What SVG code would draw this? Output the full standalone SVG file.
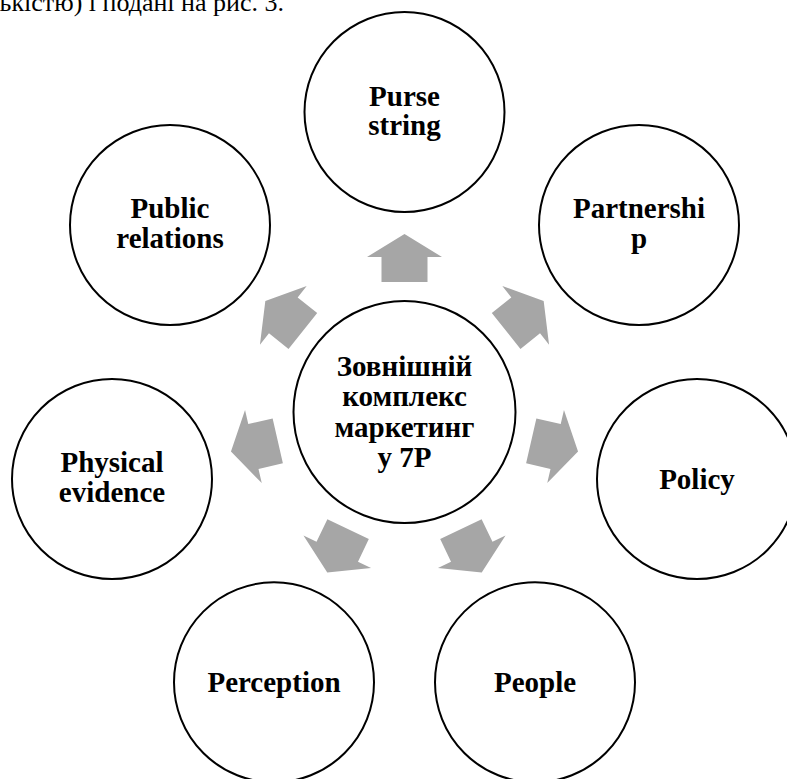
<svg xmlns="http://www.w3.org/2000/svg" width="787" height="779" viewBox="0 0 787 779">
  <style>
    .node circle { fill: #ffffff; stroke: #000000; stroke-width: 2; }
    .lbl { font-family: "Liberation Serif", "Times New Roman", serif; font-weight: bold; font-size: 29px; fill: #000000; text-anchor: middle; }
    .body { font-family: "Liberation Serif", "Times New Roman", serif; font-size: 26px; fill: #000000; }
    .arrow { fill: #A6A6A6; }
  </style>
  <defs>
    <polygon id="arr" points="-23,-130 -23,-155 -37.5,-155 0,-178 37.5,-155 23,-155 23,-130"/>
  </defs>
  <rect width="787" height="779" fill="#ffffff"/>
  <text class="body" x="284" y="11" text-anchor="end">ькістю) і подані на рис. 3.</text>

  <g id="connectors" class="arrow" transform="translate(404.5,412)">
    <use href="#arr" transform="rotate(0)"/>
    <use href="#arr" transform="rotate(51.43)"/>
    <use href="#arr" transform="rotate(102.86)"/>
    <use href="#arr" transform="rotate(154.29)"/>
    <use href="#arr" transform="rotate(205.71)"/>
    <use href="#arr" transform="rotate(257.14)"/>
    <use href="#arr" transform="rotate(308.57)"/>
  </g>

  <g id="center" class="node">
    <circle cx="404.5" cy="412" r="111"/>
    <text class="lbl" x="404.5" y="375.5">Зовнішній</text>
    <text class="lbl" x="404.5" y="406">комплекс</text>
    <text class="lbl" x="404.5" y="436.5">маркетинг</text>
    <text class="lbl" x="404.5" y="467">у 7Р</text>
  </g>

  <g id="purse-string" class="node">
    <circle cx="404.5" cy="112" r="100"/>
    <text class="lbl" x="404.5" y="106">Purse</text>
    <text class="lbl" x="404.5" y="135">string</text>
  </g>

  <g id="partnership" class="node">
    <circle cx="639" cy="225" r="100"/>
    <text class="lbl" x="639" y="218">Partnershi</text>
    <text class="lbl" x="639" y="248">p</text>
  </g>

  <g id="policy" class="node">
    <circle cx="697" cy="479" r="100"/>
    <text class="lbl" x="697" y="489">Policy</text>
  </g>

  <g id="people" class="node">
    <circle cx="535" cy="682.3" r="100"/>
    <text class="lbl" x="535" y="692.3">People</text>
  </g>

  <g id="perception" class="node">
    <circle cx="274" cy="682.3" r="100"/>
    <text class="lbl" x="274" y="692.3">Perception</text>
  </g>

  <g id="physical-evidence" class="node">
    <circle cx="112" cy="479" r="100"/>
    <text class="lbl" x="112" y="472">Physical</text>
    <text class="lbl" x="112" y="502">evidence</text>
  </g>

  <g id="public-relations" class="node">
    <circle cx="170" cy="225" r="100"/>
    <text class="lbl" x="170" y="218">Public</text>
    <text class="lbl" x="170" y="248">relations</text>
  </g>
</svg>
